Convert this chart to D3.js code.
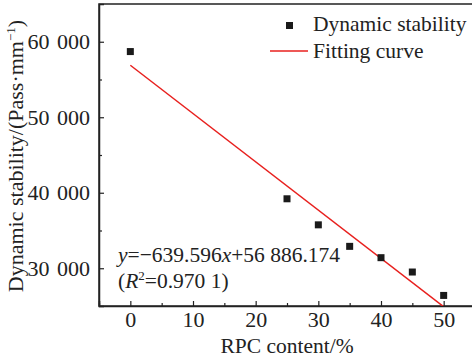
<!DOCTYPE html>
<html>
<head>
<meta charset="utf-8">
<script src="https://cdn.jsdelivr.net/npm/d3@7"></script>
<style>
  body { margin: 0; background: #fff; }
  svg text { font-family: "Liberation Serif", "Times New Roman", serif; fill: #222; }
</style>
</head>
<body>
<div id="chart"></div>
<script>
var rpc = [0, 25, 30, 35, 40, 45, 50];
var stability = [58700, 39200, 35750, 32900, 31400, 29500, 26400];
var fitSlope = -639.596;
var fitIntercept = 56886.174;
var xTicks = [0, 10, 20, 30, 40, 50];
var yTicks = [30000, 40000, 50000, 60000];

var W = 472, H = 361;
var margin = { top: 4, right: -3, bottom: 55, left: 99 };
var width = W - margin.left - margin.right;
var height = H - margin.top - margin.bottom;

var x = d3.scaleLinear().domain([-5, 55]).range([0, width]);
var y = d3.scaleLinear().domain([25000, 65000]).range([height, 0]);

var svg = d3.select("#chart").append("svg")
  .attr("width", W).attr("height", H);
var g = svg.append("g")
  .attr("transform", "translate(" + margin.left + "," + margin.top + ")");

g.append("clipPath").attr("id", "clip")
  .append("rect").attr("width", width).attr("height", height);

// frame
g.append("rect").attr("width", width).attr("height", height)
  .attr("fill", "none").attr("stroke", "#222").attr("stroke-width", 1.5);

var fmt = function (d) { return d3.format(",")(d).replace(/,/g, " "); };

// minor ticks
g.append("g").attr("transform", "translate(0," + height + ")")
  .call(d3.axisBottom(x).tickValues([-5, 5, 15, 25, 35, 45]).tickSize(-3).tickFormat(""))
  .call(s => s.select(".domain").remove())
  .selectAll("line").attr("stroke", "#222").attr("stroke-width", 1.2);
g.append("g")
  .call(d3.axisLeft(y).tickValues([35000, 45000, 55000]).tickSize(-3).tickFormat(""))
  .call(s => s.select(".domain").remove())
  .selectAll("line").attr("stroke", "#222").attr("stroke-width", 1.2);

// major axes
var xAxis = g.append("g").attr("transform", "translate(0," + height + ")")
  .call(d3.axisBottom(x).tickValues(xTicks).tickSize(-5));
xAxis.select(".domain").attr("stroke", "#222").attr("stroke-width", 1.5);
xAxis.selectAll("line").attr("stroke", "#222").attr("stroke-width", 1.2);
xAxis.selectAll("text").attr("font-size", 22).attr("y", 21).attr("dy", 0);

var yAxis = g.append("g")
  .call(d3.axisLeft(y).tickValues(yTicks).tickSize(-5).tickFormat(fmt));
yAxis.select(".domain").attr("stroke", "#222").attr("stroke-width", 1.5);
yAxis.selectAll("line").attr("stroke", "#222").attr("stroke-width", 1.2);
yAxis.selectAll("text").attr("font-size", 22).attr("x", -9)
  .style("word-spacing", "2px");

// fitting line
var line = d3.line().x(d => x(d)).y(d => y(fitSlope * d + fitIntercept));
g.append("path").datum([0, 50])
  .attr("clip-path", "url(#clip)")
  .attr("d", line).attr("fill", "none")
  .attr("stroke", "#e8201e").attr("stroke-width", 1.5);

// points
g.selectAll(".pt").data(rpc).enter().append("rect")
  .attr("x", d => x(d) - 3.5)
  .attr("y", (d, i) => y(stability[i]) - 3.5)
  .attr("width", 7).attr("height", 7).attr("fill", "#1a1a1a");

// legend
var lg = svg.append("g");
lg.append("rect").attr("x", 286).attr("y", 22).attr("width", 7).attr("height", 7).attr("fill", "#1a1a1a");
lg.append("text").attr("x", 313).attr("y", 31).attr("font-size", 21.5).text("Dynamic stability");
lg.append("line").attr("x1", 270).attr("x2", 308).attr("y1", 51).attr("y2", 51)
  .attr("stroke", "#e8201e").attr("stroke-width", 1.5);
lg.append("text").attr("x", 313).attr("y", 58).attr("font-size", 21.5).text("Fitting curve");

// equation
var eq = svg.append("text").attr("x", 118).attr("y", 262).attr("font-size", 21.5);
eq.append("tspan").attr("font-style", "italic").text("y");
eq.append("tspan").text("=\u2212639.596");
eq.append("tspan").attr("font-style", "italic").text("x");
eq.append("tspan").text("+56 886.174");
var r2 = svg.append("text").attr("x", 118).attr("y", 288).attr("font-size", 21.5);
r2.append("tspan").text("(");
r2.append("tspan").attr("font-style", "italic").text("R");
r2.append("tspan").attr("font-size", 13).attr("dy", -8).text("2");
r2.append("tspan").attr("dy", 8).text("=0.970 1)");

// axis titles
svg.append("text").attr("x", 287).attr("y", 353).attr("text-anchor", "middle")
  .attr("font-size", 21.5).text("RPC content/%");
var yt = svg.append("text")
  .attr("transform", "translate(23,156) rotate(-90)")
  .attr("text-anchor", "middle").attr("font-size", 22);
yt.append("tspan").text("Dynamic stability/(Pass\u00b7mm");
yt.append("tspan").attr("font-size", 13).attr("dy", -8).text("\u22121");
yt.append("tspan").attr("dy", 8).text(")");
</script>
</body>
</html>
